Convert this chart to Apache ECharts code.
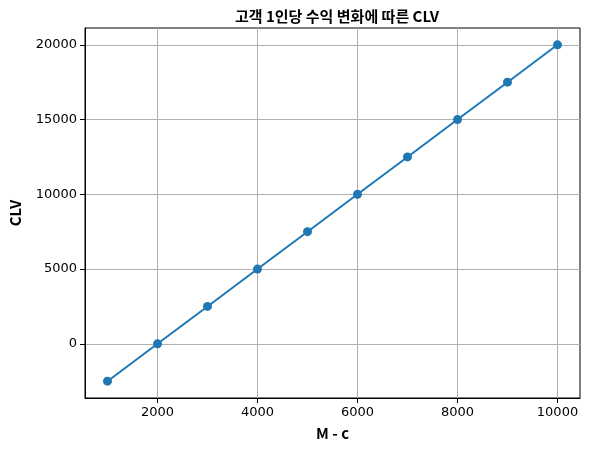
<!DOCTYPE html>
<html><head><meta charset="utf-8">
<script src="https://cdn.jsdelivr.net/npm/echarts@6/dist/echarts.min.js"></script>
<style>html,body{margin:0;padding:0;background:#fff}#c{width:590px;height:452px}</style>
</head><body><div id="c"></div>
<script>
const xValues = [1000, 2000, 3000, 4000, 5000, 6000, 7000, 8000, 9000, 10000];
const clvValues = [-2500, 0, 2500, 5000, 7500, 10000, 12500, 15000, 17500, 20000];
const xTicks = [2000, 4000, 6000, 8000, 10000];
const yTicks = [0, 5000, 10000, 15000, 20000];
const titleText = '고객 1인당 수익 변화에 따른 CLV';
const xLabel = 'M - c';
const yLabel = 'CLV';

const chart = echarts.init(document.getElementById('c'), null, {renderer: 'canvas'});
const tickFont = {fontFamily: 'DejaVu Sans', fontSize: 13, color: '#000', formatter: v => String(v)};
const nameFont = {fontFamily: 'Noto Sans CJK KR', fontWeight: 'bold', fontSize: 15, color: '#000'};
const axisCommon = {
  axisLine: {show: true, onZero: false, lineStyle: {color: '#000', width: 1}},
  axisTick: {show: true, length: 5, lineStyle: {color: '#000', width: 1}},
  splitLine: {show: true, lineStyle: {color: '#b0b0b0', width: 1}},
};
chart.setOption({
  animation: false,
  title: {
    text: titleText, left: 332, textAlign: 'center', top: 4,
    textStyle: {fontFamily: 'Noto Sans CJK KR', fontWeight: 'bold', fontSize: 15, color: '#000'}
  },
  grid: {left: 84, right: 10, top: 28, bottom: 54, show: true, borderColor: '#000', borderWidth: 1, backgroundColor: 'transparent'},
  xAxis: Object.assign({}, axisCommon, {
    type: 'value', min: 550, max: 10450,
    axisTick: Object.assign({}, axisCommon.axisTick, {customValues: xTicks}),
    axisLabel: Object.assign({}, tickFont, {customValues: xTicks, margin: 8}),
    name: xLabel, nameLocation: 'middle', nameGap: 28,
    nameTextStyle: nameFont
  }),
  yAxis: Object.assign({}, axisCommon, {
    type: 'value', min: -3625, max: 21125,
    axisTick: Object.assign({}, axisCommon.axisTick, {customValues: yTicks}),
    axisLabel: Object.assign({}, tickFont, {customValues: yTicks, margin: 8}),
    name: yLabel, nameLocation: 'middle', nameGap: 62, nameRotate: 90,
    nameTextStyle: nameFont
  }),
  series: [{
    type: 'line',
    data: xValues.map((x, i) => [x, clvValues[i]]),
    symbol: 'circle', symbolSize: 9, showSymbol: true,
    itemStyle: {color: '#1f77b4'},
    lineStyle: {color: '#1f77b4', width: 2},
    z: 3
  }]
});
</script></body></html>
